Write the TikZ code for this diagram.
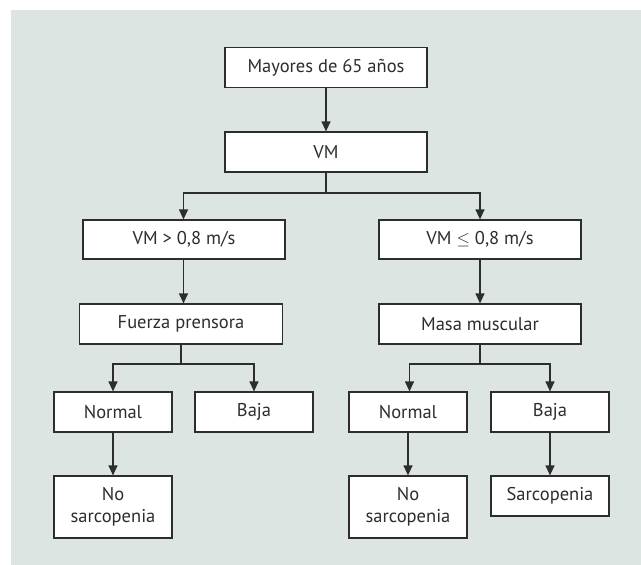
\documentclass[tikz,border=0pt]{standalone}
\usepackage{fontspec}
\setmainfont{PT Sans}
\usetikzlibrary{arrows.meta}
\definecolor{bgc}{RGB}{221,229,227}
\definecolor{ink}{RGB}{45,45,45}
\begin{document}
\begin{tikzpicture}[x=1pt,y=-1pt,
  box/.style={draw=ink,fill=white,line width=1.2pt,inner sep=0pt,
    minimum height=40pt,text=ink,font=\fontsize{18.5}{22}\selectfont,align=center},
  wide/.style={box,minimum width=202pt},
  small/.style={box,minimum width=118pt},
  arr/.style={draw=ink,line width=1.2pt,-{Triangle[width=9pt,length=10pt]}},
  ln/.style={draw=ink,line width=1.2pt}]
\useasboundingbox (0,0) rectangle (641,565);
\fill[white] (0,0) rectangle (641,565);
\fill[bgc] (11,10) rectangle (641,565);

\node[wide] (top) at (326,67.5) {Mayores de 65 años};
\node[wide] (vm) at (326,152) {VM};
\node[wide,minimum height=39pt] (gt) at (184,239.5) {VM > 0,8 m/s};
\node[wide,minimum height=39pt] (le) at (480,239.5) {VM $\leq$ 0,8 m/s};
\node[wide,minimum width=203pt] (fp) at (181,324) {Fuerza prensora};
\node[wide] (mm) at (480,324) {Masa muscular};
\node[small] (n1) at (113,412) {Normal};
\node[small] (b1) at (254,412) {Baja};
\node[small] (n2) at (408,412) {Normal};
\node[small] (b2) at (550,412) {Baja};
\node[small,minimum height=62pt] (ns1) at (113,507) {No\\sarcopenia};
\node[small,minimum height=62pt] (ns2) at (408,507) {No\\sarcopenia};
\node[small] (s) at (550,496) {Sarcopenia};

\coordinate (j0) at (326,193);
\coordinate (j1) at (181,364);
\coordinate (j2) at (480,364);

\draw[arr] (top) -- (vm);
\draw[ln] (vm.south) -- (j0);
\draw[arr] (j0) -| ([xshift=-0.5pt]gt.north);
\draw[arr] (j0) -| (le.north);
\draw[arr] ([xshift=-0.5pt]gt.south) -- ([xshift=2.5pt]fp.north);
\draw[arr] (le) -- (mm);
\draw[ln] (fp.south) -- (j1);
\draw[arr] (j1) -| (n1.north);
\draw[arr] (j1) -| (b1.north);
\draw[ln] (mm.south) -- (j2);
\draw[arr] (j2) -| ([xshift=1.5pt]n2.north);
\draw[arr] (j2) -| (b2.north);
\draw[arr] (n1) -- (ns1);
\draw[arr] (n2) -- (ns2);
\draw[arr] (b2) -- (s);
\end{tikzpicture}
\end{document}
